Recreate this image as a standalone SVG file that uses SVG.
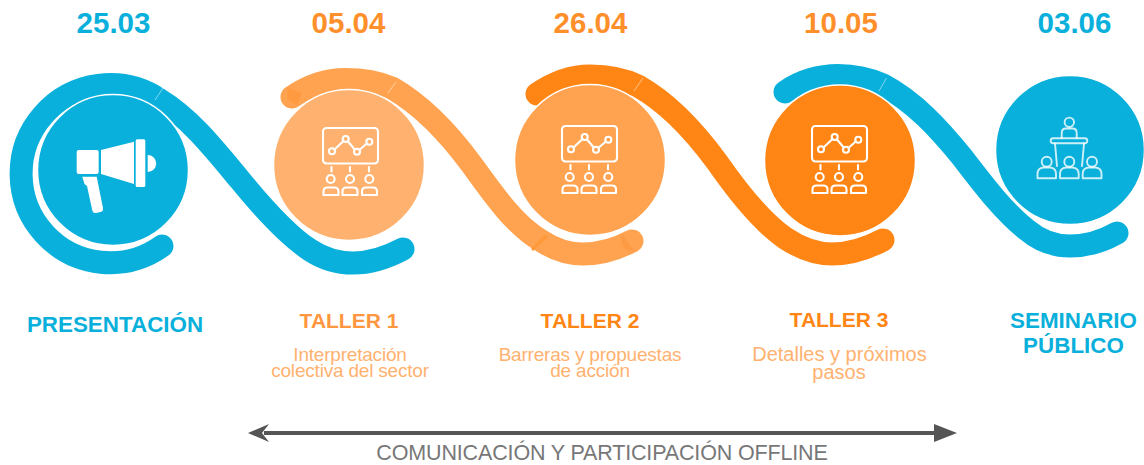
<svg xmlns="http://www.w3.org/2000/svg" width="1144" height="465" viewBox="0 0 1144 465">
<style>
text{font-family:"Liberation Sans",Arial,sans-serif;text-anchor:middle}
.date{font-size:29.500px;font-weight:700}
.head{font-size:21px;font-weight:700}
.big{font-size:22.400px}
.sub{font-size:19px;fill:#FFB26F;letter-spacing:-.2px}
.sub.w{font-size:20px;letter-spacing:0}
.blue{fill:#09B0DB}.o1{fill:#FF9640}.o2{fill:#FF8514}.date.o{fill:#FF8F2B}
.rib{fill:none;stroke-width:23;stroke-linecap:round;stroke-linejoin:round}
.disc{stroke:#fff;stroke-width:1.500}
.seam{fill:none;stroke:#fff;stroke-opacity:.55;stroke-width:.9}
.ico{fill:none;stroke:#fff;stroke-width:2.100;stroke-linecap:round;stroke-linejoin:round}
.ico2{fill:none;stroke:#fff;stroke-opacity:.8;stroke-width:1.900;stroke-linecap:round;stroke-linejoin:round}
</style>
<defs>
<marker id="hl" markerUnits="userSpaceOnUse" markerWidth="24" markerHeight="20" refX="16" refY="9" orient="auto" overflow="visible"><path d="M0 9L21 0 14 9 21 18Z" fill="#555"/></marker>
<marker id="hr" markerUnits="userSpaceOnUse" markerWidth="24" markerHeight="20" refX="3" refY="9" orient="auto" overflow="visible"><path d="M0 0L23 9 0 18Z" fill="#555"/></marker>
<g id="workshop" class="ico">
<rect x="323" y="128" width="55" height="35.500" rx="3.500"/>
<path d="M334.500 149.500L343.500 141M348 141.500L354.700 149.500M359.600 149.800L366.800 143.500"/>
<circle cx="332" cy="151.300" r="3"/><circle cx="345.700" cy="139" r="3"/><circle cx="357" cy="151.700" r="3"/><circle cx="369.300" cy="141.700" r="3"/>
<path d="M331.500 167V171.500M350 167V171.500M369 167V171.500"/>
<circle cx="330.700" cy="179" r="4"/><circle cx="350" cy="179" r="4"/><circle cx="369.300" cy="179" r="4"/>
<path d="M323.500 195V191.500Q323.500 187.500 327.500 187.500H334Q338.500 187.500 338.500 191.500V195ZM342.500 195V191.500Q342.500 187.500 346.500 187.500H353.500Q357.500 187.500 357.500 191.500V195ZM362 195V191.500Q362 187.500 366 187.500H373Q377 187.500 377 191.500V195Z"/>
</g>
</defs>
<g id="connectors">
<path class="rib" stroke="#09B0DB" d="M162 246A89 89 0 1 1 160 100C190 118 215 150 240 180C262 207 290 237 310 250C322 258 336 263 353 263C372 263 388 257 403 249"/>
<path class="rib" stroke="#FFA351" d="M292 97C308 86 326 79.500 345 79.500C362 79.500 378 82 392 88C425 107 450 135 472 165C495 197 515 225 540 240C552 248 568 254 583 254C600 254 617 249 632 241"/>
<path class="rib" stroke="#FF8514" d="M537 94C553 83 572 76 590 76C608 76 624 79 638 86C670 104 695 132 717 162C740 195 762 222 785 238C800 248 815 254 832 254C850 254 868 248 883 240"/>
<path class="rib" stroke="#09B0DB" d="M785 92C800 81 820 75.500 838 75.500C855 75.500 870 79 883 85C915 102 940 130 962 157C985 187 1005 213 1027 230C1040 241 1055 246 1070 246C1088 246 1103 241 1117 233"/>
<path d="M288 88L302 93 297 105 287 99Z" fill="#FF9A40"/>
<path d="M544 235L548.500 236.500 533 251 531 249Z" fill="#FF9A3A"/>
<path d="M622 233L628 243 634 251 625 249Q620 242 622 233Z" fill="#FF9A44"/>
<path class="seam" d="M163 88L155 100M396 82L388 93M643 78L634 91M886.500 78L879 91"/>
<line x1="264" y1="433" x2="937" y2="433" stroke="#555" stroke-width="4" marker-start="url(#hl)" marker-end="url(#hr)"/>
</g>
<g id="presentacion">
<circle class="disc" cx="113" cy="170" r="75.500" fill="#09B0DB"/>
<g fill="#fff">
<rect x="76.700" y="150" width="22" height="24" rx="2"/>
<path d="M101 150L134 141.700V184L101 174Z"/>
<rect x="135.700" y="139.300" width="9.600" height="47.700" rx="1.500"/>
<path d="M147.700 155A8.500 8.500 0 0 1 147.700 172Z"/>
<path d="M82.300 176.700H96.700L103 208Q103.500 211 100.500 212L96 213Q93 213.500 92.300 210.500L87 186L84.500 184Z"/>
</g>
<text class="date blue" x="113.500" y="33">25.03</text>
<text class="head big blue" x="115" y="332">PRESENTACIÓN</text>
</g>
<g id="taller1">
<circle class="disc" cx="349" cy="165" r="75.500" fill="#FFB26F"/>
<use href="#workshop"/>
<text class="date o" x="348.500" y="33">05.04</text>
<text class="head o1" x="349" y="328">TALLER 1</text>
<text class="sub" x="350" y="361">Interpretación</text>
<text class="sub" x="350" y="377">colectiva del sector</text>
</g>
<g id="taller2">
<circle class="disc" cx="590" cy="160" r="75.500" fill="#FFA351"/>
<use href="#workshop" x="239" y="-2"/>
<text class="date o" x="590.500" y="33">26.04</text>
<text class="head o2" x="590" y="328">TALLER 2</text>
<text class="sub" x="590" y="361">Barreras y propuestas</text>
<text class="sub" x="590" y="377">de acción</text>
</g>
<g id="taller3">
<circle class="disc" cx="840" cy="160.500" r="75.500" fill="#FF8514"/>
<use href="#workshop" x="489" y="-2"/>
<text class="date o" x="841" y="33">10.05</text>
<text class="head o2" x="839" y="327">TALLER 3</text>
<text class="sub w" x="839.500" y="361">Detalles y próximos</text>
<text class="sub w" x="839" y="379">pasos</text>
</g>
<g id="seminario">
<circle class="disc" cx="1070" cy="150" r="74.500" fill="#09B0DB"/>
<g class="ico2">
<circle cx="1069.300" cy="122.300" r="4.700"/>
<path d="M1061.700 138V133Q1061.700 128.500 1066 128.500H1072.500Q1076.700 128.500 1076.700 133V138"/>
<rect x="1050.700" y="138.300" width="36.600" height="5" rx="2.500"/>
<path d="M1055 143.500L1057 166M1084 143.500L1082 166"/>
<circle cx="1046.700" cy="161.700" r="5"/><circle cx="1069.300" cy="161.700" r="5"/><circle cx="1092" cy="161.700" r="5"/>
<path d="M1037.500 178.300V174Q1037.500 168 1043.500 167.500H1050Q1056 168 1056 174V178.300ZM1060 178.300V174Q1060 168 1066 167.500H1072.500Q1078.700 168 1078.700 174V178.300ZM1082.700 178.300V174Q1082.700 168 1088.700 167.500H1095.500Q1101.500 168 1101.500 174V178.300Z"/>
</g>
<text class="date blue" x="1074.500" y="33">03.06</text>
<text class="head big blue" x="1073.500" y="328">SEMINARIO</text>
<text class="head big blue" x="1073.500" y="353">PÚBLICO</text>
</g>
<text x="602" y="460" font-size="21.500" fill="#777" letter-spacing="-.15">COMUNICACIÓN Y PARTICIPACIÓN OFFLINE</text>
</svg>
